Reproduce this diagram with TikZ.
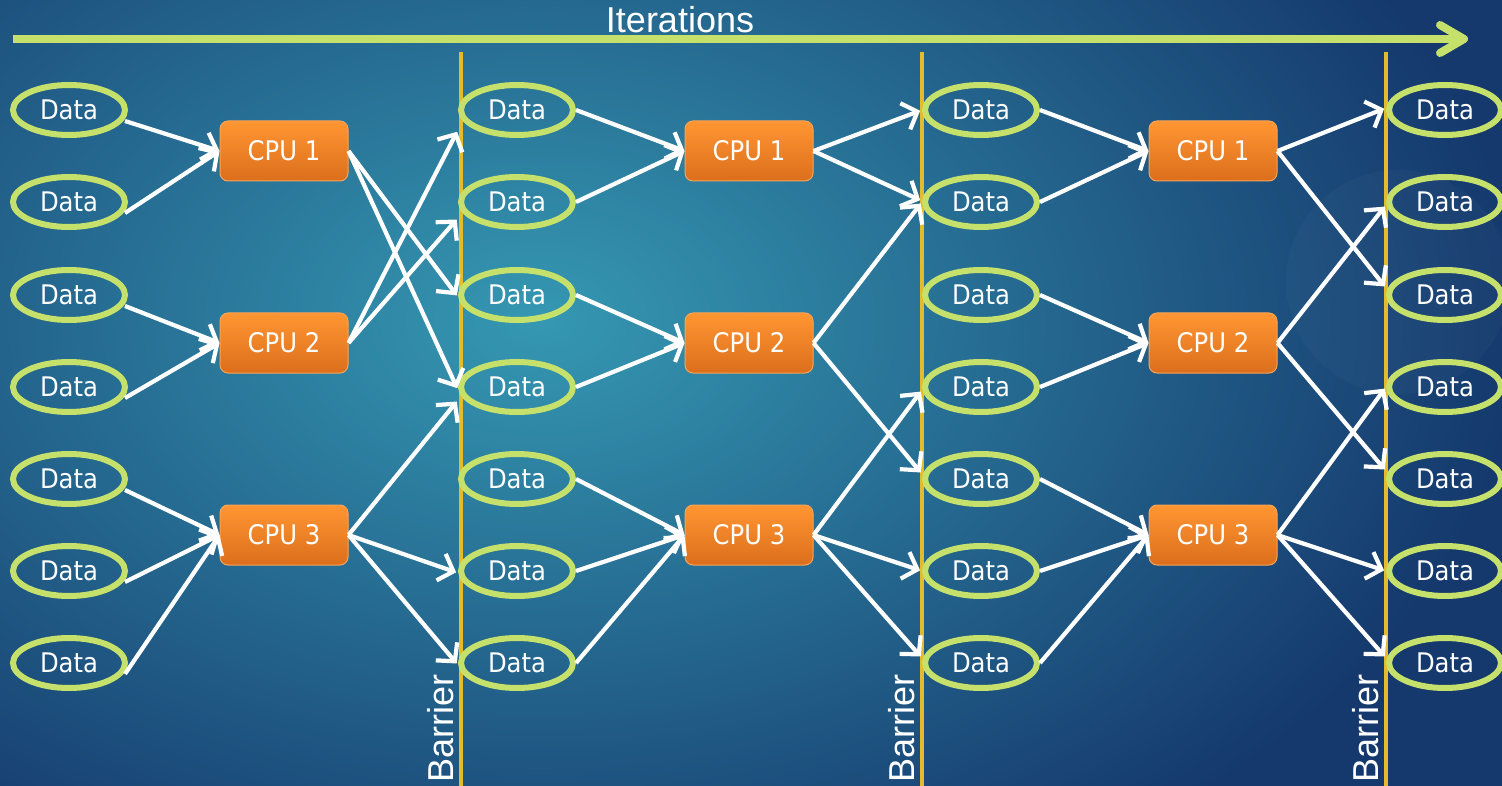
\documentclass[tikz,border=0pt]{standalone}
\usepackage{fontspec}
\setmainfont{Liberation Sans}
\newfontfamily\boxfont{DejaVu Sans Condensed}
\usetikzlibrary{arrows.meta, shapes.geometric}

\definecolor{bginner}{HTML}{3598B2}
\definecolor{bgouter}{HTML}{15396D}
\definecolor{limegreen}{HTML}{C6E06C}
\definecolor{barriergold}{HTML}{E3BB2B}
\definecolor{cputop}{HTML}{FF9632}
\definecolor{cpubottom}{HTML}{DC6E1C}
\definecolor{cpuedge}{HTML}{F6A458}

\tikzset{
  datanode/.style={ellipse, draw=limegreen, line width=6pt,
    minimum width=112pt, minimum height=50pt, inner sep=0pt,
    text=white, font=\boxfont\fontsize{27}{30}\selectfont},
  cpunode/.style={rectangle, rounded corners=8pt, draw=cpuedge, line width=1pt,
    top color=cputop, bottom color=cpubottom,
    minimum width=128pt, minimum height=60pt, inner sep=0pt,
    text=white, font=\boxfont\fontsize{27}{30}\selectfont},
  flow/.style={draw=white, line width=4.2pt,
    -{Straight Barb[length=13pt, width=28pt]}},
  outflow/.style={flow, shorten >=2pt},
  barrierline/.style={draw=barriergold, line width=4pt},
  barrierlabel/.style={rotate=90, anchor=base west, inner sep=0pt, text=white,
    font=\fontsize{36}{40}\selectfont},
  iterline/.style={draw=limegreen, line width=8pt,
    -{Straight Barb[length=24pt, width=28pt, round]}},
  titletext/.style={anchor=base, inner sep=0pt, text=white,
    font=\fontsize{36}{40}\selectfont}
}

\begin{document}
\begin{tikzpicture}[x=1pt, y=-1pt]
  % canvas and background glow
  \useasboundingbox (0,0) rectangle (1502,786);
  \begin{scope}
    \clip (0,0) rectangle (1502,786);
    \fill[bgouter] (0,0) rectangle (1502,786);
    \shade[inner color=bginner, outer color=bgouter] (540,320) ellipse (980 and 640);
    \fill[white, opacity=0.022] (1398,282) circle (112);
  \end{scope}

  % iteration axis
  \coordinate (itstart) at (13,39);
  \coordinate (itend) at (1468,39);
  \draw[iterline] (itstart) -- (itend);
  \node[titletext] (iter) at (680,33) {Iterations};

  % barriers
  \foreach \i/\x in {1/461, 2/922, 3/1386} {
    \coordinate (bt\i) at (\x,52);
    \coordinate (bb\i) at (\x,786);
    \draw[barrierline] (bt\i) -- (bb\i);
    \node[barrierlabel] (bl\i) at (\x-8,783) {Barrier};
  }

  % data items in four columns
  \foreach \c/\x in {1/69, 2/517, 3/981, 4/1445}
    \foreach \r/\y in {1/110, 2/202, 3/295, 4/387, 5/479, 6/571, 7/663}
      \node[datanode] (d\c\r) at (\x,\y) {Data};

  % processors in three columns
  \foreach \c/\x in {1/284, 2/749, 3/1213}
    \foreach \r/\y in {1/151, 2/343, 3/535}
      \node[cpunode] (c\c\r) at (\x,\y) {CPU \r};

  % inputs of the first step leave just below the right edge
  \foreach \r/\p in {1/1, 2/1, 3/2, 4/2, 5/3, 6/3, 7/3}
    \draw[flow] ([xshift=-3pt, yshift=-11pt]d1\r.east) -- (c1\p.west);

  % inputs of the later steps leave from the right edge
  \foreach \c in {2,3}
    \foreach \r/\p in {1/1, 2/1, 3/2, 4/2, 5/3, 6/3, 7/3}
      \draw[flow] (d\c\r.east) -- (c\c\p.west);

  % outputs of the first step
  \draw[outflow] (c11.east) -- ([yshift=-2pt]d23.west);
  \draw[outflow] (c11.east) -- ([yshift=-3pt]d24.west);
  \draw[outflow] (c12.east) -- ([yshift=-20pt]d21.west);
  \draw[outflow] (c12.east) -- ([yshift=-16pt]d22.west);
  \draw[outflow] (c13.east) -- ([yshift=-13pt]d24.west);
  \draw[outflow] (c13.east) -- ([yshift=-2pt]d26.west);
  \draw[outflow] (c13.east) -- ([yshift=-2pt]d27.west);

  % outputs of the second step
  \draw[outflow] (c21.east) -- (d31.west);
  \draw[outflow] (c21.east) -- ([yshift=1pt]d32.west);
  \draw[outflow] (c22.east) -- (d32.west);
  \draw[outflow] (c22.east) -- ([yshift=5pt]d35.west);
  \draw[outflow] (c23.east) -- ([yshift=-3pt]d34.west);
  \draw[outflow] (c23.east) -- (d36.west);
  \draw[outflow] (c23.east) -- ([yshift=5pt]d37.west);

  % outputs of the third step
  \draw[outflow] (c31.east) -- ([yshift=2pt]d41.west);
  \draw[outflow] (c31.east) -- ([yshift=7pt]d43.west);
  \draw[outflow] (c32.east) -- ([yshift=-3pt]d42.west);
  \draw[outflow] (c32.east) -- ([yshift=8pt]d45.west);
  \draw[outflow] (c33.east) -- (d44.west);
  \draw[outflow] (c33.east) -- (d46.west);
  \draw[outflow] (c33.east) -- ([yshift=5pt]d47.west);
\end{tikzpicture}
\end{document}
